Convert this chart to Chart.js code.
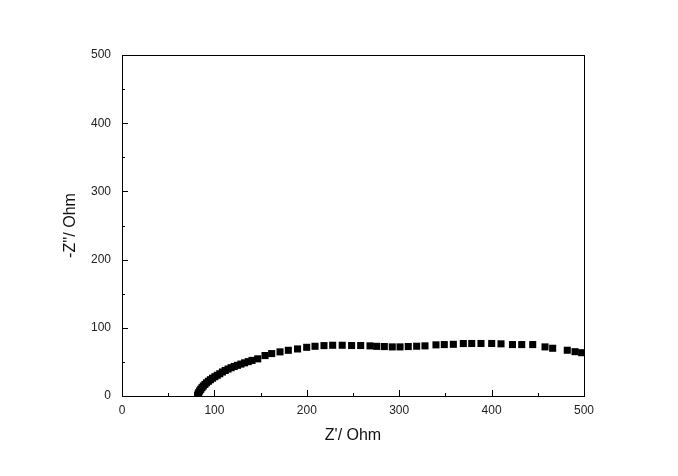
<!DOCTYPE html>
<html>
<head>
<meta charset="utf-8">
<script src="https://cdn.jsdelivr.net/npm/chart.js@4"></script>
<style>
  body { margin: 0; background: #fff; }
  #wrap { width: 678px; height: 476px; }
</style>
</head>
<body>
<div id="wrap"><canvas id="nyquist" width="678" height="476"></canvas></div>
<script>
// Z' (real part) and -Z'' (imaginary part), Ohm
const zReal = [
  81.8, 82.3, 83.0, 84.0, 85.2, 86.5, 88.0, 89.7, 91.5, 93.5, 95.7, 98.0,
  100.5, 103.1, 105.8, 108.7, 111.7, 114.8, 118.1, 121.5, 125.0, 128.7,
  132.6, 136.6, 140.7, 146.9, 154.8, 162.0, 171.0, 180.0, 190.0, 199.9,
  208.9, 218.6, 228.0, 238.3, 248.5, 258.3, 268.4, 275.6, 283.9, 292.5,
  300.9, 309.8, 318.9, 327.9, 339.8, 348.8, 358.6, 369.4, 378.5, 388.5,
  400.1, 410.2, 422.6, 432.6, 444.5, 457.8, 466.1, 481.9, 490.3, 497.5
];
const zImag = [
  0.8, 2.8, 5.0, 7.4, 9.8, 12.2, 14.6, 17.0, 19.3, 21.6, 23.9, 26.1,
  28.3, 30.4, 32.6, 35.2, 37.4, 39.5, 41.5, 43.3, 45.0, 46.8,
  48.6, 50.4, 52.2, 54.5, 59.3, 62.2, 64.7, 67.0, 69.0, 71.4,
  72.9, 73.9, 74.4, 74.4, 74.0, 74.0, 73.5, 72.8, 72.5, 72.0,
  72.0, 72.5, 73.0, 73.5, 75.0, 75.4, 75.8, 76.9, 77.0, 77.0,
  77.0, 76.5, 75.4, 75.4, 75.4, 72.0, 70.0, 67.1, 65.0, 63.5
];
const xTicks = [0, 100, 200, 300, 400, 500];
const yTicks = [0, 100, 200, 300, 400, 500];

const points = zReal.map((x, i) => ({x: x, y: zImag[i]}));

// frame + inward ticks like the Origin plot
const frameTicks = {
  id: "frameTicks",
  afterDraw(chart) {
    const {ctx, chartArea: a, scales} = chart;
    ctx.save();
    ctx.strokeStyle = "#000";
    ctx.lineWidth = 1;
    ctx.strokeRect(Math.round(a.left) + 0.5, Math.round(a.top) + 0.5,
      Math.round(a.right - a.left), Math.round(a.bottom - a.top));
    ctx.beginPath();
    for (let v = 0; v <= 500; v += 50) {
      const len = v % 100 === 0 ? 6 : 3;
      const px = Math.round(scales.x.getPixelForValue(v)) + 0.5;
      ctx.moveTo(px, Math.round(a.bottom));
      ctx.lineTo(px, Math.round(a.bottom) - len);
      const py = Math.round(scales.y.getPixelForValue(v)) + 0.5;
      ctx.moveTo(Math.round(a.left), py);
      ctx.lineTo(Math.round(a.left) + len, py);
    }
    ctx.stroke();
    ctx.restore();
  }
};

const tickFont = {family: "'Liberation Sans', Arial, sans-serif", size: 12};
const titleFont = {family: "'Liberation Sans', Arial, sans-serif", size: 16};

new Chart(document.getElementById("nyquist").getContext("2d"), {
  type: "scatter",
  data: {
    datasets: [{
      data: points,
      pointStyle: "rect",
      pointRadius: 5,
      pointBorderWidth: 0,
      backgroundColor: "#000",
      borderColor: "#000"
    }]
  },
  options: {
    responsive: false,
    animation: false,
    layout: { padding: {left: 0, top: 55, right: 94, bottom: 0} },
    plugins: { legend: {display: false}, tooltip: {enabled: false} },
    scales: {
      x: {
        type: "linear",
        min: 0, max: 500,
        afterBuildTicks: s => { s.ticks = xTicks.map(v => ({value: v})); },
        afterFit: s => { s.height = 80; },
        grid: {display: false, drawTicks: false},
        border: {display: false},
        ticks: {color: "#222", font: tickFont, padding: 7, maxRotation: 0},
        title: {display: true, text: "Z'/ Ohm", color: "#111", font: titleFont, padding: {top: 0, bottom: 31}}
      },
      y: {
        type: "linear",
        min: 0, max: 500,
        afterBuildTicks: s => { s.ticks = yTicks.map(v => ({value: v})); },
        afterFit: s => { s.width = 122; },
        grid: {display: false, drawTicks: false},
        border: {display: false},
        ticks: {color: "#222", font: tickFont, padding: 11},
        title: {display: true, text: "-Z''/ Ohm", color: "#111", font: titleFont, padding: {top: 61, bottom: 0}}
      }
    }
  },
  plugins: [frameTicks]
});
</script>
</body>
</html>
